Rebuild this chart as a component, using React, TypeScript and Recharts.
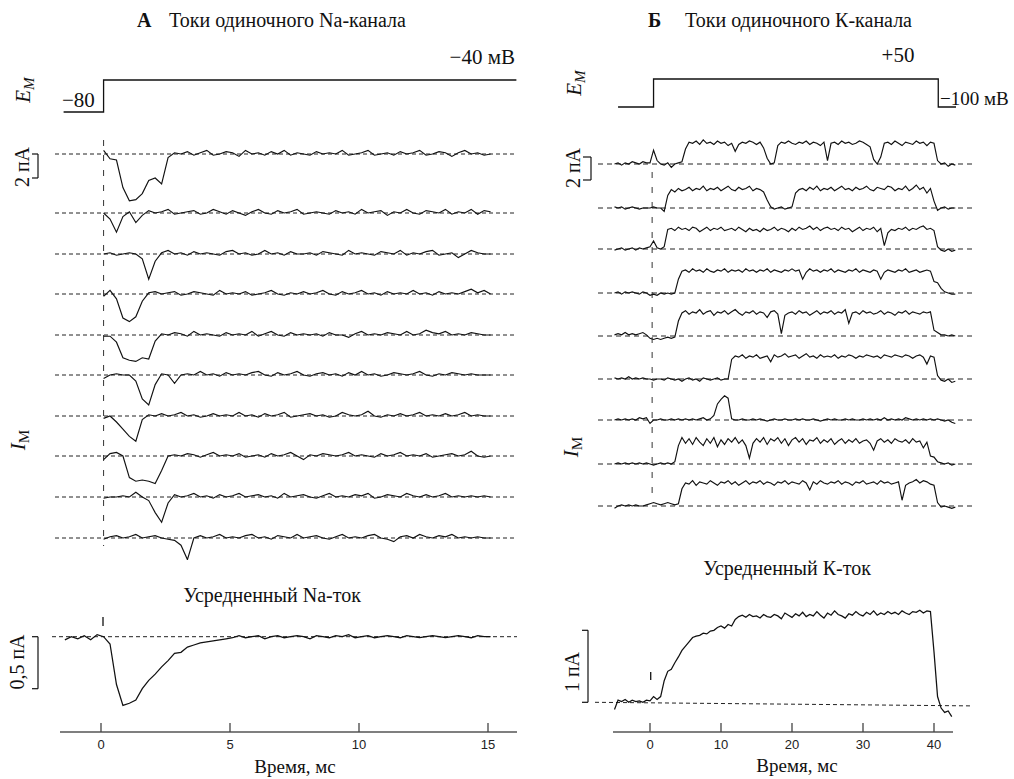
import React from "react"
import { LineChart, Line, XAxis, YAxis, ReferenceLine } from "recharts"

// ---------- data ----------

// A: Na channel, step -80 -> -40 mV
const naStepTime = [-1.45, 0.1, 0.1, 16.1]
const naStepMv = [-80, -80, -40, -40]

// single sweeps, pA, sampled every 0.25 ms from 0.1 ms
const naSweepStart = 0.1
const naSweepStep = 0.25
const naSweep1 = [
  0.3, -0.4, -0.5, -2.8, -3.9, -3.8, -3.3, -2.2, -2.0, -2.5, -0.3, 0.1,
  0.0, 0.2, -0.1, 0.1, 0.3, -0.1, 0.0, 0.2, 0.1, -0.2, 0.3, 0.0,
  0.1, -0.1, 0.2, 0.0, 0.3, -0.1, 0.1, 0.0, -0.1, 0.2, 0.0, 0.1,
  0.0, 0.3, -0.1, 0.0, 0.1, 0.3, -0.1, 0.0, 0.1, -0.1, 0.2, 0.0,
  0.1, 0.3, -0.1, 0.0, 0.2, 0.1, -0.2, 0.1, 0.3, 0.0, 0.1, -0.1,
  0.0,
]
const naSweep2 = [
  0.0, -0.5, -1.6, -0.3, 0.1, -0.8, -0.2, 0.2, 0.0, 0.1, 0.3, -0.1,
  0.0, 0.1, 0.2, -0.1, 0.0, 0.3, 0.1, -0.1, 0.2, 0.0, -0.2, 0.1,
  0.3, 0.0, -0.1, 0.2, 0.0, 0.1, 0.3, -0.1, 0.0, 0.1, 0.0, -0.1,
  0.2, 0.0, 0.1, -0.1, 0.3, 0.0, 0.1, 0.2, -0.2, 0.1, 0.0, 0.3,
  0.0, -0.1, 0.2, 0.1, 0.0, 0.3, -0.1, 0.1, 0.0, 0.3, -0.1, 0.2,
  0.1,
]
const naSweep3 = [
  0.0, 0.1, -0.1, 0.0, 0.1, 0.0, -0.4, -2.1, -0.6, 0.1, 0.3, 0.0,
  0.1, -0.1, 0.2, 0.0, 0.1, 0.0, -0.1, 0.2, 0.3, 0.0, 0.1, -0.1,
  0.0, 0.3, 0.0, 0.1, -0.1, 0.2, 0.0, 0.0, 0.1, -0.1, 0.2, 0.1,
  0.0, -0.1, 0.3, 0.0, 0.1, 0.0, -0.1, 0.2, 0.1, 0.0, 0.3, -0.1,
  0.1, 0.0, 0.2, 0.3, -0.1, 0.0, 0.1, -0.3, 0.0, 0.3, 0.1, 0.0,
  0.0,
]
const naSweep4 = [
  -0.2, 0.3, -0.4, -2.0, -2.3, -1.9, -0.6, 0.1, 0.2, 0.0, 0.1, 0.2,
  -0.1, 0.0, 0.2, 0.1, 0.0, -0.1, 0.3, 0.0, 0.1, 0.0, 0.2, -0.1,
  0.0, 0.1, 0.3, 0.0, -0.1, 0.1, 0.0, 0.2, 0.0, 0.1, 0.3, 0.0,
  -0.1, 0.2, 0.0, 0.1, 0.3, 0.0, 0.1, -0.1, 0.2, 0.0, 0.1, 0.0,
  0.3, 0.0, 0.1, -0.1, 0.2, 0.0, 0.1, 0.0, 0.2, 0.4, 0.1, 0.3,
  0.0,
]
const naSweep5 = [
  -0.1, -0.1, -0.6, -1.9, -2.1, -2.2, -1.9, -2.0, -0.5, 0.1, 0.0, 0.2,
  0.1, -0.1, 0.3, 0.0, 0.1, 0.0, -0.1, 0.2, 0.0, 0.1, 0.0, 0.3,
  -0.1, 0.1, 0.3, 0.0, -0.1, 0.2, 0.0, 0.1, 0.0, 0.1, -0.1, 0.2,
  0.0, 0.0, -0.2, 0.1, 0.3, 0.0, 0.1, 0.0, 0.2, 0.1, 0.0, 0.3,
  0.0, 0.1, 0.4, 0.2, 0.1, 0.3, 0.0, 0.1, 0.0, 0.2, 0.1, 0.0,
  0.0,
]
const naSweep6 = [
  -0.3, 0.0, 0.1, 0.0, 0.0, -0.5, -2.0, -2.5, -0.8, 0.1, 0.0, -0.7,
  0.0, 0.1, 0.0, 0.3, 0.0, 0.1, -0.1, 0.2, 0.0, 0.1, 0.0, 0.2,
  0.3, 0.0, -0.1, 0.2, 0.0, 0.1, 0.3, 0.0, -0.1, 0.1, 0.2, 0.0,
  0.1, -0.1, 0.2, 0.0, 0.3, 0.0, 0.1, -0.1, 0.0, 0.2, 0.1, 0.0,
  0.1, 0.3, 0.0, -0.1, 0.1, 0.0, 0.2, 0.1, 0.0, 0.1, 0.0, 0.0,
  0.0,
]
const naSweep7 = [
  -0.2, 0.0, -0.5, -1.1, -1.7, -2.1, -0.3, 0.1, 0.0, 0.2, 0.0, 0.1,
  0.3, 0.0, 0.1, -0.1, 0.0, 0.2, 0.0, 0.1, 0.0, 0.3, 0.0, 0.1,
  -0.1, 0.2, 0.0, 0.1, 0.3, -0.1, 0.0, 0.1, 0.2, 0.0, 0.1, -0.1,
  0.0, 0.3, 0.1, 0.0, 0.1, 0.4, 0.0, -0.1, 0.1, 0.0, 0.2, 0.0,
  0.1, 0.3, 0.0, 0.1, 0.0, 0.2, 0.0, 0.1, 0.3, 0.0, 0.1, 0.0,
  0.0,
]
const naSweep8 = [
  -0.3, 0.2, 0.3, 0.0, -1.8, -2.1, -2.0, -2.1, -2.3, -1.2, 0.0, 0.1,
  0.0, 0.2, 0.1, -0.1, 0.1, 0.3, 0.0, 0.1, 0.0, 0.2, -0.1, 0.0,
  0.1, -0.1, 0.2, 0.0, 0.1, 0.3, 0.0, -0.3, 0.1, 0.0, 0.2, 0.1,
  0.0, 0.1, 0.3, 0.0, 0.1, 0.0, -0.1, 0.2, 0.0, 0.1, 0.3, 0.0,
  0.1, 0.0, 0.2, -0.1, 0.0, 0.1, 0.2, 0.0, 0.1, 0.4, 0.0, -0.1,
  0.0,
]
const naSweep9 = [
  -0.1, 0.0, 0.0, 0.1, 0.0, 0.4, 0.0, -0.3, -1.3, -2.1, -0.5, 0.2,
  0.0, 0.1, 0.3, 0.0, 0.1, -0.1, 0.2, 0.0, 0.1, 0.3, 0.0, 0.1,
  0.2, 0.0, 0.1, -0.1, 0.3, 0.0, 0.1, 0.2, 0.0, -0.1, 0.1, 0.3,
  0.0, 0.1, 0.0, 0.2, 0.1, 0.3, -0.1, 0.0, 0.2, 0.1, 0.0, 0.3,
  0.1, 0.0, 0.2, 0.0, 0.1, 0.3, 0.0, 0.1, 0.0, 0.1, 0.0, 0.1,
  0.0,
]
const naSweep10 = [
  -0.1, 0.1, 0.2, 0.0, 0.1, 0.3, 0.0, 0.1, 0.2, 0.0, -0.1, -0.2,
  -0.6, -1.8, 0.0, 0.2, 0.0, 0.1, 0.3, 0.0, 0.1, 0.0, 0.2, 0.3,
  0.0, 0.1, -0.1, 0.2, 0.1, 0.0, 0.3, 0.0, 0.1, 0.2, 0.0, -0.1,
  0.1, 0.3, 0.0, 0.1, 0.0, 0.2, 0.3, 0.0, -0.1, -0.3, 0.1, 0.2,
  0.0, 0.3, 0.1, 0.0, 0.2, 0.1, 0.3, 0.0, 0.1, 0.0, 0.1, 0.0,
  0.0,
]
const naSweeps = [naSweep1, naSweep2, naSweep3, naSweep4, naSweep5, naSweep6, naSweep7, naSweep8, naSweep9, naSweep10]

// averaged Na current, pA, every 0.25 ms from -1.4 ms
const naAvgStart = -1.4
const naAvgStep = 0.25
const naAverage = [
  -0.03, 0.0, -0.02, 0.01, -0.03, 0.02, 0.0, -0.07, -0.46, -0.66,
  -0.64, -0.61, -0.5, -0.42, -0.36, -0.29, -0.23, -0.16, -0.15, -0.1,
  -0.08, -0.06, -0.05, -0.04, -0.03, -0.02, -0.01, 0.01, -0.01, 0.0,
  0.01, -0.02, 0.0, 0.01, -0.01, 0.0, 0.01, 0.0, -0.02, 0.01,
  0.0, -0.01, 0.01, 0.0, 0.02, -0.01, 0.0, 0.01, -0.01, 0.0,
  0.01, 0.0, -0.01, 0.01, 0.0, -0.01, 0.0, 0.01, 0.0, -0.01,
  0.0, 0.01, 0.0, -0.01, 0.01, 0.0, 0.0,
]
const naTicks = [0, 5, 10, 15]

// Б: K channel, step -100 -> +50 mV
const kStepTime = [-4.5, 0.5, 0.5, 40.6, 40.6, 43.1]
const kStepMv = [-100, -100, 50, 50, -100, -100]

// single sweeps, pA, every 0.5 ms from -5 ms
const kSweepStart = -5
const kSweepStep = 0.5
const kSweep1 = [
  0.0, 0.1, -0.1, 0.1, 0.0, 0.2, 0.1, 0.0, 0.2, 0.1,
  0.1, 1.2, 0.3, 0.0, -0.1, 0.1, -0.3, 0.0, 0.1, 0.2,
  1.3, 1.9, 1.8, 2.0, 1.7, 2.1, 1.8, 1.9, 1.7, 2.0,
  1.8, 1.9, 1.6, 1.8, 1.1, 1.7, 1.9, 1.8, 2.0, 1.9,
  1.7, 1.9, 1.4, 0.5, 0.0, 0.1, 1.6, 1.9, 1.8, 2.0,
  1.8, 1.7, 1.9, 1.8, 2.0, 1.7, 1.9, 1.8, 1.6, 1.9,
  0.3, 1.8, 1.9, 1.7, 2.0, 1.8, 1.9, 1.7, 1.8, 2.0,
  1.9, 1.7, 1.5, 0.4, 0.0, 0.6, 1.8, 1.9, 1.7, 2.0,
  1.8, 1.6, 1.9, 1.8, 1.7, 2.0, 1.8, 1.9, 1.6, 1.9,
  1.8, 0.3, 0.0, 0.1, -0.2, 0.0, -0.1,
]
const kSweep2 = [
  0.1, 0.0, 0.1, -0.1, 0.0, 0.1, 0.0, -0.1, 0.0, 0.0,
  0.0, 0.1, 0.0, 0.0, -0.3, 1.1, 1.6, 1.4, 1.7, 1.5,
  1.6, 1.8, 1.5, 1.7, 1.6, 1.9, 1.5, 1.7, 1.6, 1.8,
  1.5, 1.7, 1.9, 1.6, 1.5, 1.8, 1.6, 1.7, 1.9, 1.5,
  1.7, 1.6, 1.4, 0.7, 0.1, -0.1, 0.0, 0.1, -0.1, 0.0,
  0.1, 1.3, 1.6, 1.7, 1.5, 1.8, 1.6, 1.9, 1.5, 1.7,
  1.6, 1.8, 1.5, 1.7, 1.9, 1.6, 1.7, 1.5, 1.8, 1.6,
  1.7, 1.9, 1.6, 1.5, 1.8, 1.7, 1.6, 1.9, 1.8, 1.5,
  1.7, 1.6, 1.9, 1.5, 1.7, 2.0, 1.6, 1.8, 1.3, 1.7,
  0.6, -0.2, 0.0, 0.1, -0.1, 0.0, 0.0,
]
const kSweep3 = [
  -0.1, 0.0, 0.1, -0.1, 0.0, 0.1, -0.1, 0.1, 0.0, 0.1,
  0.2, 0.7, 0.1, 0.0, 0.2, 1.7, 1.8, 1.6, 1.9, 1.7,
  1.8, 1.6, 1.9, 1.8, 1.5, 1.7, 1.9, 1.6, 1.8, 1.7,
  1.9, 1.6, 1.7, 1.8, 1.6, 1.9, 1.7, 1.5, 1.8, 1.6,
  1.7, 1.5, 1.8, 1.6, 1.7, 1.9, 1.6, 1.8, 1.7, 1.5,
  1.8, 1.6, 1.9, 1.7, 1.8, 2.0, 1.7, 1.9, 1.6, 1.8,
  1.9, 1.7, 1.8, 1.6, 1.9, 1.7, 1.8, 1.5, 1.7, 1.9,
  1.6, 1.8, 1.7, 1.9, 1.5, 1.8, 0.3, 1.4, 1.7, 1.6,
  1.8, 1.7, 1.9, 1.6, 1.8, 1.7, 1.9, 2.0, 1.7, 1.8,
  1.6, 0.2, -0.1, -0.2, 0.0, -0.2, -0.1,
]
const kSweep4 = [
  0.0, 0.1, -0.1, 0.1, 0.0, 0.1, 0.0, -0.1, 0.1, 0.0,
  -0.2, -0.1, -0.2, 0.0, -0.1, 0.0, -0.1, 0.0, 1.2, 1.9,
  2.0, 1.8, 2.1, 1.9, 2.0, 1.8, 2.1, 1.9, 1.8, 2.0,
  1.9, 2.1, 1.8, 2.0, 1.9, 2.0, 1.8, 2.1, 1.9, 2.0,
  1.8, 2.0, 1.9, 2.1, 1.8, 2.0, 1.9, 1.8, 2.0, 1.9,
  2.1, 1.9, 2.0, 1.2, 1.8, 2.1, 1.9, 2.0, 1.8, 2.0,
  1.9, 2.1, 1.8, 2.0, 1.9, 1.8, 2.0, 1.9, 2.1, 1.8,
  2.0, 1.9, 1.8, 2.0, 1.9, 1.2, 1.8, 2.0, 1.9, 1.8,
  2.0, 1.9, 2.1, 1.8, 1.9, 2.0, 1.8, 1.9, 2.0, 1.9,
  1.0, 0.9, 0.4, 0.1, 0.0, -0.1, -0.1,
]
const kSweep5 = [
  0.1, 0.2, 0.1, 0.3, 0.1, 0.2, 0.1, 0.2, 0.3, 0.1,
  -0.2, -0.3, -0.2, -0.3, -0.2, -0.1, -0.2, -0.1, 1.3, 2.0,
  2.2, 1.9, 2.1, 2.0, 2.3, 1.9, 2.1, 2.2, 1.8, 2.1,
  2.0, 2.2, 1.9, 2.1, 2.3, 2.0, 1.8, 2.1, 2.0, 2.2,
  1.9, 2.1, 2.0, 1.6, 2.1, 2.2, 1.9, 0.2, 1.8, 2.0,
  2.1, 1.9, 2.2, 2.0, 2.1, 1.8, 2.0, 2.2, 1.9, 2.1,
  2.0, 2.2, 1.9, 2.1, 2.0, 2.3, 1.1, 2.0, 2.1, 1.9,
  2.2, 2.0, 2.1, 1.9, 2.0, 2.2, 1.9, 2.1, 2.0, 1.8,
  2.1, 2.0, 2.2, 1.9, 2.1, 2.0, 1.9, 2.1, 2.0, 2.1,
  0.5, 0.3, 0.1, 0.1, 0.0, 0.1, 0.0,
]
const kSweep6 = [
  0.1, 0.0, 0.1, 0.0, 0.2, 0.0, 0.1, 0.0, 0.1, 0.0,
  0.0, -0.1, 0.0, 0.0, -0.1, 0.1, 0.0, -0.1, 0.0, -0.2,
  0.0, 0.1, -0.1, 0.0, -0.2, 0.1, 0.0, -0.1, 0.0, 0.1,
  -0.1, 0.0, 0.0, 1.7, 2.0, 1.9, 2.1, 1.8, 2.0, 1.9,
  2.1, 1.8, 1.9, 2.0, 1.5, 2.1, 1.9, 2.0, 2.2, 1.9,
  2.0, 2.1, 1.8, 2.0, 2.2, 1.9, 2.0, 1.8, 2.1, 1.9,
  2.0, 1.9, 2.1, 1.8, 2.0, 1.9, 2.1, 2.0, 1.8, 2.0,
  1.9, 2.1, 2.0, 1.9, 2.0, 1.8, 2.1, 2.0, 1.9, 2.1,
  2.0, 1.9, 2.1, 2.0, 1.8, 2.0, 2.1, 1.9, 1.3, 2.0,
  1.9, 0.3, -0.1, -0.2, 0.0, -0.3, -0.2,
]
const kSweep7 = [
  0.0, 0.1, 0.0, 0.1, 0.0, 0.1, 0.0, 0.2, 0.1, 0.2,
  -0.3, 0.0, 0.0, 0.1, 0.0, 0.0, 0.1, 0.0, 0.1, 0.0,
  0.1, 0.0, 0.1, 0.0, 0.1, 0.2, 0.0, 0.1, 0.4, 1.4,
  1.8, 2.1, 1.9, 0.1, 0.0, 0.0, 0.1, 0.0, 0.0, 0.1,
  0.0, 0.1, 0.0, -0.1, 0.0, 0.1, 0.0, 0.0, 0.1, 0.0,
  0.0, 0.1, 0.0, 0.1, 0.0, 0.0, 0.1, 0.0, -0.1, 0.0,
  0.1, 0.0, 0.1, 0.0, 0.0, 0.1, 0.0, 0.1, 0.0, 0.0,
  0.1, 0.0, 0.1, 0.0, 0.1, 0.0, 0.2, 0.0, 0.1, 0.0,
  0.1, 0.0, 0.2, 0.1, 0.0, 0.1, 0.0, 0.1, 0.0, 0.1,
  0.0, 0.1, 0.0, -0.1, 0.0, -0.2, -0.3,
]
const kSweep8 = [
  0.0, 0.1, 0.0, 0.1, 0.0, 0.1, 0.0, 0.1, 0.0, 0.1,
  0.0, -0.1, 0.0, 0.1, 0.0, 0.1, 0.0, 0.2, 1.6, 2.3,
  1.8, 2.2, 1.7, 2.3, 1.9, 1.6, 2.2, 1.8, 2.3, 1.5,
  2.1, 1.7, 2.2, 1.9, 2.3, 1.8, 2.1, 1.6, 0.5, 1.8,
  2.2, 1.9, 2.3, 1.7, 2.2, 2.0, 2.3, 1.8, 2.2, 1.6,
  2.1, 2.3, 1.9, 2.2, 1.7, 2.1, 2.0, 2.3, 1.8, 2.1,
  1.9, 2.2, 1.7, 2.0, 2.2, 1.8, 2.1, 1.9, 2.2, 1.8,
  2.0, 2.1, 1.8, 1.2, 2.0, 2.2, 1.9, 2.1, 1.8, 2.2,
  2.0, 1.9, 2.1, 1.8, 2.2, 1.9, 2.0, 1.4, 1.9, 0.7,
  0.6, 0.2, 0.1, 0.0, 0.1, -0.1, 0.0,
]
const kSweep9 = [
  -0.2, 0.0, 0.1, 0.0, 0.1, 0.0, 0.1, 0.0, 0.0, 0.1,
  0.2, 0.3, 0.2, 0.1, 0.2, 0.3, 0.2, 0.1, 0.2, 1.5,
  2.0, 1.9, 2.2, 1.8, 2.1, 2.0, 1.9, 2.2, 2.0, 1.8,
  2.1, 2.0, 2.2, 1.9, 2.1, 1.8, 2.0, 2.2, 1.9, 2.1,
  2.0, 2.2, 1.9, 2.1, 2.0, 1.8, 2.1, 2.0, 2.2, 1.9,
  2.1, 2.0, 1.9, 2.2, 2.0, 1.4, 2.1, 1.9, 2.2, 2.0,
  1.9, 2.1, 2.0, 2.2, 1.9, 2.1, 2.0, 1.8, 2.1, 2.0,
  2.2, 1.9, 2.0, 2.1, 1.9, 2.2, 2.0, 2.1, 1.9, 2.0,
  2.1, 0.5, 1.8, 2.0, 2.1, 2.3, 2.0, 2.2, 2.1, 1.9,
  1.8, 0.3, -0.1, 0.0, -0.1, -0.2, -0.1,
]
const kSweeps = [kSweep1, kSweep2, kSweep3, kSweep4, kSweep5, kSweep6, kSweep7, kSweep8, kSweep9]

// averaged K current, pA, every 0.5 ms from -5 ms
const kAvgStart = -5
const kAvgStep = 0.5
const kAverage = [
  -0.1, 0.03, 0.01, 0.04, 0.0, 0.03, 0.01, 0.02, 0.0, 0.03,
  0.02, 0.08, 0.04, 0.08, 0.3, 0.43, 0.46, 0.55, 0.63, 0.72,
  0.78, 0.84, 0.9, 0.92, 0.93, 0.96, 0.95, 0.99, 1.0, 1.04,
  1.06, 1.03, 1.08, 1.06, 1.15, 1.19, 1.21, 1.18, 1.22, 1.19,
  1.2, 1.17, 1.22, 1.19, 1.18, 1.22, 1.2, 1.16, 1.24, 1.21,
  1.18, 1.23, 1.2, 1.25, 1.19, 1.22, 1.2, 1.26, 1.21, 1.17,
  1.24, 1.21, 1.27, 1.22, 1.2, 1.17, 1.23, 1.21, 1.26, 1.22,
  1.2, 1.25, 1.22, 1.27, 1.21, 1.24, 1.22, 1.26, 1.23, 1.25,
  1.22, 1.27, 1.24, 1.22, 1.26, 1.25, 1.28, 1.24, 1.27, 1.26,
  0.7, 0.08, -0.08, -0.14, -0.12, -0.2,
]
const kTicks = [0, 10, 20, 30, 40]

// ---------- layout ----------

const SERIF = '"Liberation Serif", "Times New Roman", serif'
const SANS = '"Liberation Sans", Arial, sans-serif'
const INK = "#111"
const NO_MARGIN = { top: 0, right: 0, bottom: 0, left: 0 }

type Box = { left: number; top: number; width: number; height: number }
type TimeScale = { zero: number; pxPerMs: number }

const naX: TimeScale = { zero: 101, pxPerMs: 25.8 }
const kX: TimeScale = { zero: 650, pxPerMs: 7.1 }

const msAt = (px: number, s: TimeScale) => (px - s.zero) / s.pxPerMs
const xDomain = (b: Box, s: TimeScale) => [msAt(b.left, s), msAt(b.left + b.width, s)]
// value domain so that refVal lands on pixel refPx
const yDomain = (top: number, bottom: number, refPx: number, refVal: number, ppu: number) => [
  refVal - (bottom - refPx) / ppu,
  refVal + (refPx - top) / ppu,
]
const series = (values: number[], start: number, step: number, offset = 0) =>
  values.map((v, i) => ({ t: +(start + i * step).toFixed(3), v: v + offset }))
const pairs = (ts: number[], vs: number[]) => ts.map((t, i) => ({ t, v: vs[i] }))

const naVoltBox: Box = { left: 10, top: 60, width: 510, height: 70 }
const naSweepBox: Box = { left: 10, top: 130, width: 510, height: 430 }
const naAvgBox: Box = { left: 60, top: 600, width: 457, height: 160 }
const naRowY = [154, 213, 254, 294, 335, 375, 416, 456, 497, 538]
const naSweepPx = 12 // px per pA
const naAvgPx = 104

const kVoltBox: Box = { left: 575, top: 60, width: 405, height: 65 }
const kSweepBox: Box = { left: 575, top: 130, width: 405, height: 400 }
const kAvgBox: Box = { left: 613, top: 590, width: 340, height: 170 }
const kRowY = [164, 208, 249, 293, 336, 379, 420, 464, 506]
const kSweepPx = 11.5
const kAvgPx = 72

const AXIS_H = 28

const place = (b: Box): React.CSSProperties => ({
  position: "absolute",
  left: b.left,
  top: b.top,
  width: b.width,
  height: b.height,
})

function Note({
  x, y, size = 20, anchor = "middle", rotate = 0, bold = false, children,
}: {
  x: number; y: number; size?: number; anchor?: "start" | "middle" | "end"
  rotate?: number; bold?: boolean; children: React.ReactNode
}) {
  const dx = anchor === "start" ? "0" : anchor === "end" ? "-100%" : "-50%"
  return (
    <div
      style={{
        position: "absolute", left: x, top: y,
        transform: `translate(${dx}, -50%) rotate(${rotate}deg)`,
        fontFamily: SERIF, fontSize: size, fontWeight: bold ? 700 : 400,
        lineHeight: 1, whiteSpace: "nowrap", color: INK,
      }}
    >
      {children}
    </div>
  )
}

const Em = () => (
  <span style={{ fontStyle: "italic" }}>
    E<span style={{ fontSize: "0.72em", verticalAlign: "-0.3em" }}>M</span>
  </span>
)
const Im = () => (
  <span>
    <i>I</i><span style={{ fontSize: "0.72em", verticalAlign: "-0.3em" }}>M</span>
  </span>
)

function UpTick(props: any) {
  const { x, y, payload } = props
  return (
    <g>
      <line x1={x} x2={x} y1={y - 9} y2={y} stroke="#444" strokeWidth={1.3} />
      <text x={x} y={y + 17} textAnchor="middle" fontFamily={SANS} fontSize={13} fill="#222">
        {payload.value}
      </text>
    </g>
  )
}

function Bracket({ x, tickX, from, to }: { x: number; tickX: number; from: number; to: number }) {
  return (
    <>
      <ReferenceLine segment={[{ x, y: from }, { x, y: to }]} stroke={INK} strokeWidth={1.2} ifOverflow="visible" />
      <ReferenceLine segment={[{ x: tickX, y: from }, { x, y: from }]} stroke={INK} strokeWidth={1.2} ifOverflow="visible" />
      <ReferenceLine segment={[{ x: tickX, y: to }, { x, y: to }]} stroke={INK} strokeWidth={1.2} ifOverflow="visible" />
    </>
  )
}

function SweepChart({
  box, scale, rows, sweeps, start, step, ppu, dashFrom, dashTo, markerT, markerFrom, markerTo, dash,
  barX, barTickX, barTop, barBottom,
}: {
  box: Box; scale: TimeScale; rows: number[]; sweeps: number[][]; start: number; step: number; ppu: number
  dashFrom: number; dashTo: number; markerT: number; markerFrom: number; markerTo: number; dash: string
  barX: number; barTickX: number; barTop: number; barBottom: number
}) {
  const level = (px: number) => -(px - box.top) / ppu
  return (
    <div style={place(box)}>
      <LineChart width={box.width} height={box.height} margin={NO_MARGIN}>
        <XAxis type="number" dataKey="t" domain={xDomain(box, scale)} hide allowDataOverflow />
        <YAxis type="number" domain={[-box.height / ppu, 0]} hide allowDataOverflow />
        {rows.map((y, i) => (
          <ReferenceLine
            key={`base${i}`}
            segment={[{ x: msAt(dashFrom, scale), y: level(y) }, { x: msAt(dashTo, scale), y: level(y) }]}
            stroke="#222" strokeWidth={1} strokeDasharray={dash}
          />
        ))}
        <ReferenceLine
          segment={[{ x: markerT, y: level(markerFrom) }, { x: markerT, y: level(markerTo) }]}
          stroke="#333" strokeWidth={1} strokeDasharray="6 9"
        />
        <Bracket x={msAt(barX, scale)} tickX={msAt(barTickX, scale)} from={level(barTop)} to={level(barBottom)} />
        {sweeps.map((s, i) => (
          <Line
            key={`sw${i}`}
            data={series(s, start, step, level(rows[i]))}
            dataKey="v" type="linear" stroke={INK} strokeWidth={1.15}
            dot={false} activeDot={false} isAnimationActive={false}
          />
        ))}
      </LineChart>
    </div>
  )
}

function VoltageChart({ box, scale, data, refPx, refVal, ppu }: {
  box: Box; scale: TimeScale; data: { t: number; v: number }[]; refPx: number; refVal: number; ppu: number
}) {
  return (
    <div style={place(box)}>
      <LineChart width={box.width} height={box.height} margin={NO_MARGIN}>
        <XAxis type="number" dataKey="t" domain={xDomain(box, scale)} hide allowDataOverflow />
        <YAxis type="number" domain={yDomain(box.top, box.top + box.height, refPx, refVal, ppu)} hide allowDataOverflow />
        <Line data={data} dataKey="v" type="linear" stroke={INK} strokeWidth={1.3} dot={false} activeDot={false} isAnimationActive={false} />
      </LineChart>
    </div>
  )
}

export default function App() {
  const naAvgDomain = yDomain(naAvgBox.top, naAvgBox.top + naAvgBox.height - AXIS_H, 636.7, 0, naAvgPx)
  const kAvgDomain = yDomain(kAvgBox.top, kAvgBox.top + kAvgBox.height - AXIS_H, 702.3, 0, kAvgPx)
  const naAvgVal = (px: number) => -(px - 636.7) / naAvgPx
  const kAvgVal = (px: number) => -(px - 702.3) / kAvgPx

  return (
    <div style={{ position: "absolute", left: 0, top: 0, width: 1014, height: 779, background: "#fff", overflow: "hidden" }}>
      <style>{`.recharts-surface { overflow: visible; }`}</style>

      {/* ----- A: Na ----- */}
      <Note x={137} y={20} size={20} anchor="start" bold>А</Note>
      <Note x={169} y={20} size={20} anchor="start">Токи одиночного Na-канала</Note>
      <Note x={515} y={57} size={21} anchor="end">−40 мВ</Note>
      <Note x={62} y={100} size={21} anchor="start">−80</Note>
      <Note x={25} y={90} size={21} rotate={-90}><Em /></Note>
      <Note x={22} y={167} size={20} rotate={-90}>2 пА</Note>
      <Note x={20} y={440} size={21} rotate={-90}><Im /></Note>
      <Note x={272} y={595} size={20}>Усредненный Na-ток</Note>
      <Note x={17} y={662} size={20} rotate={-90}>0,5 пА</Note>
      <Note x={295} y={766} size={19}>Время, мс</Note>

      <VoltageChart box={naVoltBox} scale={naX} data={pairs(naStepTime, naStepMv)} refPx={80} refVal={-40} ppu={32 / 40} />

      <SweepChart
        box={naSweepBox} scale={naX} rows={naRowY} sweeps={naSweeps}
        start={naSweepStart} step={naSweepStep} ppu={naSweepPx}
        dashFrom={55} dashTo={517} dash="4 3"
        markerT={0.1} markerFrom={140} markerTo={546}
        barX={38} barTickX={32} barTop={154} barBottom={154 + 2 * naSweepPx}
      />

      <div style={place(naAvgBox)}>
        <LineChart width={naAvgBox.width} height={naAvgBox.height} margin={NO_MARGIN}>
          <XAxis
            type="number" dataKey="t" domain={xDomain(naAvgBox, naX)} allowDataOverflow
            ticks={naTicks} interval={0} height={AXIS_H} tickSize={0} tickMargin={0} tickLine={false}
            axisLine={{ stroke: "#555", strokeWidth: 1.6 }} tick={(p: any) => <UpTick {...p} />}
          />
          <YAxis type="number" domain={naAvgDomain} hide allowDataOverflow />
          <ReferenceLine
            segment={[{ x: msAt(52, naX), y: 0 }, { x: msAt(517, naX), y: 0 }]}
            stroke="#222" strokeWidth={1} strokeDasharray="4 3" ifOverflow="visible"
          />
          <ReferenceLine
            segment={[{ x: msAt(103, naX), y: naAvgVal(617) }, { x: msAt(103, naX), y: naAvgVal(626) }]}
            stroke={INK} strokeWidth={1.3} ifOverflow="visible"
          />
          <Bracket x={msAt(38, naX)} tickX={msAt(32, naX)} from={0} to={-0.5} />
          <Line
            data={series(naAverage, naAvgStart, naAvgStep)} dataKey="v" type="linear"
            stroke={INK} strokeWidth={1.25} dot={false} activeDot={false} isAnimationActive={false}
          />
        </LineChart>
      </div>

      {/* ----- Б: K ----- */}
      <Note x={648} y={20} size={20} anchor="start" bold>Б</Note>
      <Note x={685} y={20} size={20} anchor="start">Токи одиночного К-канала</Note>
      <Note x={898} y={55} size={21}>+50</Note>
      <Note x={940} y={98} size={19} anchor="start">−100 мВ</Note>
      <Note x={576} y={83} size={21} rotate={-90}><Em /></Note>
      <Note x={573} y={168} size={20} rotate={-90}>2 пА</Note>
      <Note x={573} y={447} size={21} rotate={-90}><Im /></Note>
      <Note x={787} y={568} size={20}>Усредненный К-ток</Note>
      <Note x={572} y={672} size={20} rotate={-90}>1 пА</Note>
      <Note x={797} y={765} size={19}>Время, мс</Note>

      <VoltageChart box={kVoltBox} scale={kX} data={pairs(kStepTime, kStepMv)} refPx={79} refVal={50} ppu={28 / 150} />

      <SweepChart
        box={kSweepBox} scale={kX} rows={kRowY} sweeps={kSweeps}
        start={kSweepStart} step={kSweepStep} ppu={kSweepPx}
        dashFrom={598} dashTo={974} dash="5 4"
        markerT={0.3} markerFrom={172} markerTo={500}
        barX={591} barTickX={583} barTop={157} barBottom={157 + 2 * kSweepPx}
      />

      <div style={place(kAvgBox)}>
        <LineChart width={kAvgBox.width} height={kAvgBox.height} margin={NO_MARGIN}>
          <XAxis
            type="number" dataKey="t" domain={xDomain(kAvgBox, kX)} allowDataOverflow
            ticks={kTicks} interval={0} height={AXIS_H} tickSize={0} tickMargin={0} tickLine={false}
            axisLine={{ stroke: "#555", strokeWidth: 1.6 }} tick={(p: any) => <UpTick {...p} />}
          />
          <YAxis type="number" domain={kAvgDomain} hide allowDataOverflow />
          <ReferenceLine
            segment={[{ x: msAt(595, kX), y: 0 }, { x: msAt(972, kX), y: -0.05 }]}
            stroke="#222" strokeWidth={1} strokeDasharray="4 3" ifOverflow="visible"
          />
          <ReferenceLine
            segment={[{ x: 0.1, y: kAvgVal(672) }, { x: 0.1, y: kAvgVal(680) }]}
            stroke={INK} strokeWidth={1.3} ifOverflow="visible"
          />
          <Bracket x={msAt(588, kX)} tickX={msAt(582, kX)} from={0} to={1} />
          <Line
            data={series(kAverage, kAvgStart, kAvgStep)} dataKey="v" type="linear"
            stroke={INK} strokeWidth={1.25} dot={false} activeDot={false} isAnimationActive={false}
          />
        </LineChart>
      </div>
    </div>
  )
}
